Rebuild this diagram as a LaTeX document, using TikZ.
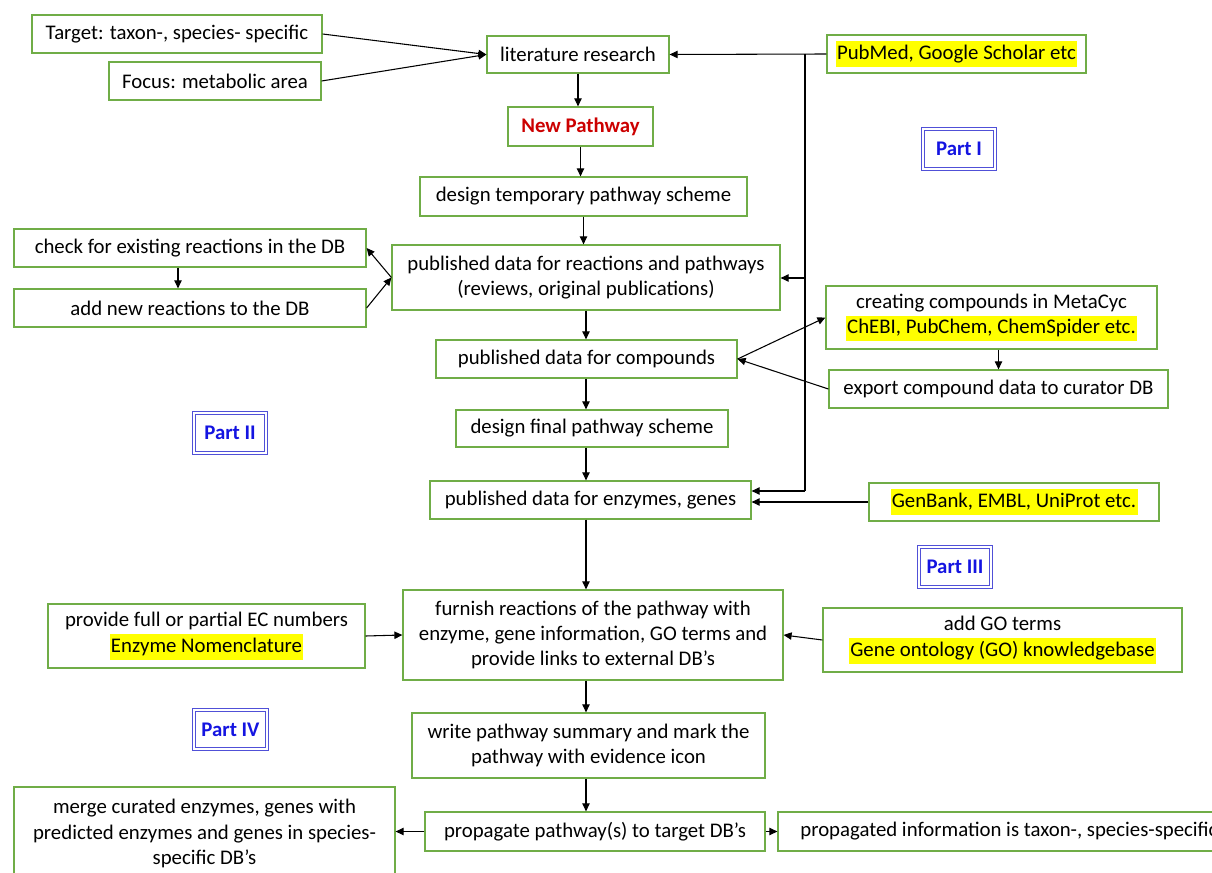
\documentclass[tikz,border=0pt]{standalone}
\usepackage{fontspec}
\setmainfont{Carlito}
\usetikzlibrary{arrows.meta}
\definecolor{gbox}{RGB}{112,173,71}
\definecolor{hly}{RGB}{255,255,0}
\definecolor{pblue}{RGB}{20,20,225}
\definecolor{pbord}{RGB}{80,80,215}
\definecolor{nred}{RGB}{204,0,0}
\newcommand{\hl}[1]{{\setlength{\fboxsep}{0pt}\colorbox{hly}{\strut\hspace{1pt}#1\hspace{1pt}}}}
\newcommand{\bx}[6]{\node[box,minimum width={(#4-#2)*0.75pt},minimum height={(#5-#3)*0.75pt}] (#1) at ({(#2+#4)/2},{(#3+#5)/2}) {#6};}
\newcommand{\pbx}[6]{\node[partbox,minimum width={(#4-#2)*0.75pt},minimum height={(#5-#3)*0.75pt}] (#1) at ({(#2+#4)/2},{(#3+#5)/2}) {#6};}
\tikzset{
  box/.style={draw=gbox, line width=0.9pt, fill=white, align=center, inner sep=0pt,
    font=\fontsize{15.6}{18.8}\selectfont},
  partbox/.style={draw=pbord, double=white, line width=0.6pt, double distance=1.3pt,
    inner sep=0pt, text=pblue, font=\fontsize{15.6}{18.8}\selectfont\bfseries},
  conn/.style={line width=0.8pt, black},
  arr/.style={conn, -{Triangle[length=6pt,width=5.5pt]}}
}
\begin{document}
\begin{tikzpicture}[x=0.75pt,y=-0.75pt]
\useasboundingbox (0,0) rectangle (1212,873);
\clip (0,0) rectangle (1212,873);
% boxes
\bx{tgt}{32}{15}{322}{53}{Target: taxon-, species- specific}
\bx{foc}{109}{62}{321}{100}{Focus: metabolic area}
\bx{lit}{487}{36}{669}{73}{literature research}
\bx{pub}{827}{35}{1086}{73}{\hl{PubMed, Google Scholar etc}}
\bx{newp}{508}{107}{653}{146}{\textcolor{nred}{\bfseries New Pathway}}
\pbx{p1}{923}{129}{995}{169}{Part I}
\bx{dtmp}{420}{177}{747}{216}{design temporary pathway scheme}
\bx{chk}{14}{229}{366}{267}{check for existing reactions in the DB}
\bx{addn}{14}{289}{366}{327}{add new reactions to the DB}
\bx{pubr}{392}{245}{780}{310}{published data for reactions and pathways\\(reviews, original publications)}
\bx{crt}{826}{286}{1157}{349}{creating compounds in MetaCyc\\\hl{ChEBI, PubChem, ChemSpider etc.}}
\bx{cmp}{436}{340}{737}{378}{published data for compounds}
\bx{exp}{829}{370}{1168}{408}{export compound data to curator DB}
\pbx{p2}{194}{413}{266}{453}{Part II}
\bx{dfin}{456}{410}{728}{447}{design final pathway scheme}
\bx{enz}{430}{481}{751}{519}{published data for enzymes, genes}
\bx{gen}{869}{483}{1159}{521}{\hl{GenBank, EMBL, UniProt etc.}}
\pbx{p3}{919}{547}{991}{587}{Part III}
\bx{ec}{48}{604}{365}{668}{provide full or partial EC numbers\\\hl{Enzyme Nomenclature}}
\bx{fur}{403}{590}{783}{680}{furnish reactions of the pathway with\\enzyme, gene information, GO terms and\\provide links to external DB’s}
\bx{go}{823}{608}{1182}{672}{add GO terms\\\hl{Gene ontology (GO) knowledgebase}}
\pbx{p4}{194}{710}{267}{749}{Part IV}
\bx{wrt}{412}{713}{765}{778}{write pathway summary and mark the\\pathway with evidence icon}
\bx{mrg}{14}{787}{395}{880}{merge curated enzymes, genes with\\predicted enzymes and genes in species-\\specific DB’s}
\bx{prp}{425}{812}{765}{851}{propagate pathway(s) to target DB’s}
\bx{inf}{778}{812}{1240}{851}{propagated information is taxon-, species-specific}
% connectors
\draw[arr] (tgt.east) -- (lit.west);
\draw[arr] (foc.east) -- (lit.west);
\draw[arr] (pub.west) -- (lit.east);
\coordinate (vt) at (805,54);
\coordinate (vm) at (805,278);
\coordinate (vb) at (805,491);
\draw[conn] (vt) -- (vb);
\draw[arr] (vm) -- (vm -| pubr.east);
\draw[arr] (vb) -- (vb -| enz.east);
\draw[arr] (gen.west) -- (gen.west -| enz.east);
\draw[arr] (lit.south) -- (lit.south |- newp.north);
\draw[arr] (newp.south) -- (newp.south |- dtmp.north);
\draw[arr] (dtmp.south) -- (dtmp.south |- pubr.north);
\draw[arr] (pubr.west) -- (chk.east);
\draw[arr] (addn.east) -- (pubr.west);
\coordinate (cx) at (178,0);
\draw[arr] (chk.south -| cx) -- (addn.north -| cx);
\draw[arr] (pubr.south) -- (pubr.south |- cmp.north);
\draw[arr] (cmp.east) -- (crt.west);
\draw[arr] (exp.west) -- (cmp.east);
\draw[arr] (crt.south -| exp.north) -- (exp.north);
\draw[arr] (cmp.south -| pubr.south) -- (dfin.north -| pubr.south);
\draw[arr] (dfin.south -| pubr.south) -- (enz.north -| pubr.south);
\draw[arr] (enz.south -| pubr.south) -- (fur.north -| pubr.south);
\draw[arr] (ec.east) -- (fur.west);
\draw[arr] (go.west) -- (fur.east);
\draw[arr] (fur.south -| pubr.south) -- (wrt.north -| pubr.south);
\draw[arr] (wrt.south -| pubr.south) -- (prp.north -| pubr.south);
\draw[arr] (prp.west) -- (prp.west -| mrg.east);
\draw[arr] (prp.east) -- (inf.west);
\end{tikzpicture}
\end{document}
